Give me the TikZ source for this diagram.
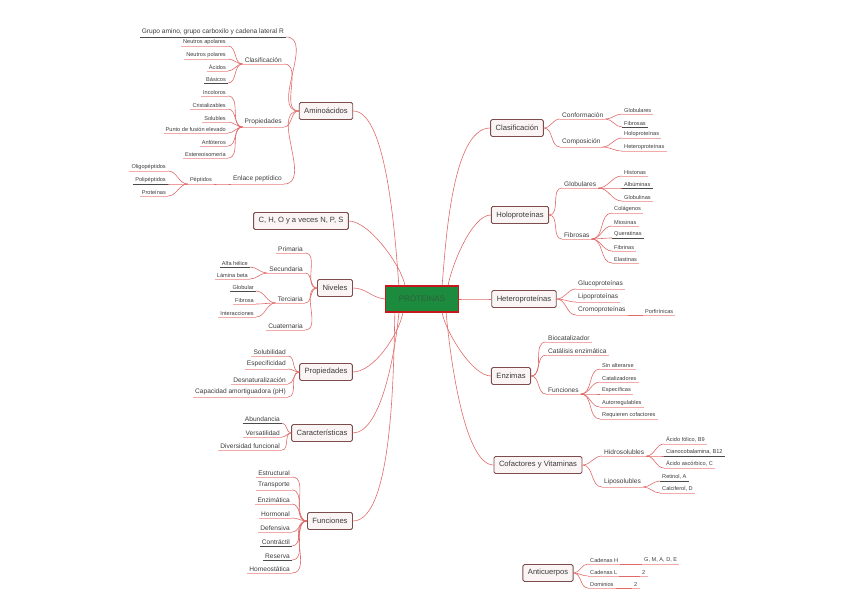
\documentclass[tikz,border=0pt]{standalone}
\usepackage{fontspec}
\setmainfont{Liberation Sans}
\usetikzlibrary{positioning}
\definecolor{Wire}{HTML}{E06A6A}
\definecolor{Under}{HTML}{F2AAAA}
\definecolor{Dark}{HTML}{4A4A4A}
\definecolor{Edge}{HTML}{7D4C4C}
\definecolor{Card}{HTML}{FBF4F4}
\definecolor{Ink}{HTML}{3C3C3C}
\definecolor{Core}{HTML}{1C8B3E}
\definecolor{CoreEdge}{HTML}{C8161D}
\definecolor{CoreInk}{HTML}{2F5F3B}

\tikzset{
  topic/.style={draw=Edge, fill=Card, rounded corners=1.5pt, line width=0.9pt,
    font=\fontsize{7.6}{9}\selectfont, text=Ink, minimum height=17pt, inner xsep=5pt},
  sub/.style={font=\fontsize{6.6}{7}\selectfont, text=Ink, inner xsep=2pt, inner ysep=1.6pt},
  leaf/.style={font=\fontsize{5.6}{6}\selectfont, text=Ink, inner xsep=2pt, inner ysep=1.4pt},
  link/.style={draw=Wire, line width=0.6pt},
  rule/.style={line width=0.7pt},
}
\newcommand\ulnode[2]{\draw[rule,#2] (#1.south west) -- (#1.south east);}

\begin{document}
\begin{tikzpicture}[x=1pt,y=-1pt]
  \useasboundingbox (0,0) rectangle (848,599);
  % centre
  \node[draw=CoreEdge, fill=Core, line width=1.2pt, minimum width=73pt, minimum height=26pt,
    font=\fontsize{8}{9}\selectfont, text=CoreInk] (core) at (422,299) {PROTEINAS};

  % ---- left side
  \node[topic] (amino) at (326,111) {Aminoácidos};
  \node[topic] (cho) at (301,221) {C, H, O y a veces N, P, S};
  \node[topic] (niv) at (335,288) {Niveles};
  \node[topic] (lprop) at (326,372) {Propiedades};
  \node[topic] (carac) at (322,433) {Características};
  \node[topic] (func) at (330,521) {Funciones};
  \draw[link] ([xshift=14pt]core.north west) to[out=95,in=0,looseness=0.5] (amino.east);
  \draw[link] ([xshift=20pt]core.north west) to[out=100,in=0,looseness=0.6] (cho.east);
  \draw[link] (core.west) to[out=175,in=0] (niv.east);
  \draw[link] ([xshift=18pt]core.south west) to[out=260,in=0,looseness=0.7] (lprop.east);
  \draw[link] ([xshift=14pt]core.south west) to[out=265,in=0,looseness=0.6] (carac.east);
  \draw[link] ([xshift=10pt]core.south west) to[out=268,in=0,looseness=0.5] (func.east);

  % aminoacidos
  \node[sub, anchor=south east] (grupo) at (286,37) {Grupo amino, grupo carboxilo y cadena lateral R};
  \node[sub, anchor=south east] (aclas) at (284,64) {Clasificación};
  \node[sub, anchor=south east] (aprop) at (284,127) {Propiedades};
  \node[sub, anchor=south east] (enlace) at (284,184) {Enlace peptídico};
  \ulnode{grupo}{Dark}
  \foreach \s in {aclas,aprop,enlace} {
    \ulnode{\s}{Under}
  }
  \foreach \s in {grupo,aclas,aprop,enlace} {
    \draw[link] (amino.west) to[out=180,in=0] (\s.south east);
  }
  \foreach \n/\y/\t/\c in {1/46/Neutros apolares/Under, 2/59/Neutros polares/Under,
      3/71/Ácidos/Under, 4/83/Básicos/Dark} {
    \node[leaf, anchor=south east] (ac\n) at (228,\y) {\t};
    \ulnode{ac\n}{\c}
    \draw[link] (aclas.south west) to[out=180,in=0] (ac\n.south east);
  }
  \foreach \n/\y/\t in {1/96/Incoloros, 2/109/Cristalizables, 3/122/Solubles,
      4/133/Punto de fusión elevado, 5/146/Anfóteros, 6/158/Estereoisomería} {
    \node[leaf, anchor=south east] (ap\n) at (228,\y) {\t};
    \ulnode{ap\n}{Under}
    \draw[link] (aprop.south west) to[out=180,in=0] (ap\n.south east);
  }
  \node[leaf, anchor=south east] (pept) at (214,184) {Péptidos};
  \ulnode{pept}{Under}
  \draw[link] (enlace.south west) to[out=180,in=0] (pept.south east);
  \foreach \n/\y/\t/\c in {1/171/Oligopéptidos/Under, 2/184/Polipéptidos/Dark, 3/196/Proteínas/Under} {
    \node[leaf, anchor=south east] (pp\n) at (168,\y) {\t};
    \ulnode{pp\n}{\c}
    \draw[link] (pept.south west) to[out=180,in=0] (pp\n.south east);
  }

  % niveles
  \foreach \n/\y/\t in {prim/253/Primaria, sec/273/Secundaria, ter/303/Terciaria, cua/330/Cuaternaria} {
    \node[sub, anchor=south east] (\n) at (305,\y) {\t};
    \ulnode{\n}{Under}
    \draw[link] (niv.west) to[out=180,in=0] (\n.south east);
  }
  \foreach \n/\y/\t/\c in {1/267/Alfa hélice/Dark, 2/279/Lámina beta/Under} {
    \node[leaf, anchor=south east] (se\n) at (250,\y) {\t};
    \ulnode{se\n}{\c}
    \draw[link] (sec.south west) to[out=180,in=0] (se\n.south east);
  }
  \foreach \n/\y/\t/\c in {1/291/Globular/Dark, 2/304/Fibrosa/Under, 3/317/Interacciones/Under} {
    \node[leaf, anchor=south east] (te\n) at (256,\y) {\t};
    \ulnode{te\n}{\c}
    \draw[link] (ter.south west) to[out=180,in=0] (te\n.south east);
  }

  % propiedades
  \foreach \n/\y/\t in {1/356/Solubilidad, 2/369/Especificidad, 3/384/Desnaturalización,
      4/397/Capacidad amortiguadora (pH)} {
    \node[sub, anchor=south east] (pr\n) at (288,\y) {\t};
    \ulnode{pr\n}{Under}
    \draw[link] (lprop.west) to[out=180,in=0] (pr\n.south east);
  }
  % caracteristicas
  \foreach \n/\y/\t/\c in {1/423/Abundancia/Dark, 2/437/Versatilidad/Under, 3/450/Diversidad funcional/Under} {
    \node[sub, anchor=south east] (ca\n) at (282,\y) {\t};
    \ulnode{ca\n}{\c}
    \draw[link] (carac.west) to[out=180,in=0] (ca\n.south east);
  }
  % funciones
  \foreach \n/\y/\t/\c in {1/477/Estructural/Under, 2/490/Transporte/Under, 3/504/Enzimática/Under,
      4/518/Hormonal/Under, 5/532/Defensiva/Under, 6/546/Contráctil/Dark,
      7/560/Reserva/Dark, 8/573/Homeostática/Under} {
    \node[sub, anchor=south east] (fu\n) at (292,\y) {\t};
    \ulnode{fu\n}{\c}
    \draw[link] (func.west) to[out=180,in=0] (fu\n.south east);
  }

  % ---- right side
  \node[topic] (clas) at (517,128) {Clasificación};
  \node[topic] (holo) at (520,215) {Holoproteínas};
  \node[topic] (hete) at (524,299) {Heteroproteínas};
  \node[topic] (enz) at (511,376) {Enzimas};
  \node[topic] (cofa) at (538,465) {Cofactores y Vitaminas};
  \node[topic] (anti) at (548,573) {Anticuerpos};
  \draw[link] ([xshift=-17pt]core.north east) to[out=85,in=180,looseness=0.6] (clas.west);
  \draw[link] ([xshift=-11pt]core.north east) to[out=80,in=180,looseness=0.6] (holo.west);
  \draw[link] (core.east) to[out=0,in=180] (hete.west);
  \draw[link] ([xshift=-17pt]core.south east) to[out=280,in=180,looseness=0.6] (enz.west);
  \draw[link] ([xshift=-13pt]core.south east) to[out=275,in=180,looseness=0.5] (cofa.west);

  % clasificacion
  \foreach \n/\y/\t in {conf/119/Conformación, comp/147/Composición} {
    \node[sub, anchor=south west] (\n) at (560,\y) {\t};
    \ulnode{\n}{Under}
    \draw[link] (clas.east) to[out=0,in=180] (\n.south west);
  }
  \foreach \n/\y/\t/\c in {1/114/Globulares/Under, 2/127/Fibrosas/Dark} {
    \node[leaf, anchor=south west] (cf\n) at (622,\y) {\t};
    \ulnode{cf\n}{\c}
    \draw[link] (conf.south east) to[out=0,in=180] (cf\n.south west);
  }
  \foreach \n/\y/\t in {1/138/Holoproteínas, 2/151/Heteroproteínas} {
    \node[leaf, anchor=south west] (cm\n) at (622,\y) {\t};
    \ulnode{cm\n}{Under}
    \draw[link] (comp.south east) to[out=0,in=180] (cm\n.south west);
  }

  % holoproteinas
  \foreach \n/\y/\t in {glob/188/Globulares, fibr/239/Fibrosas} {
    \node[sub, anchor=south west] (\n) at (562,\y) {\t};
    \ulnode{\n}{Under}
    \draw[link] (holo.east) to[out=0,in=180] (\n.south west);
  }
  \foreach \n/\y/\t/\c in {1/176/Histonas/Under, 2/188/Albúminas/Dark, 3/201/Globulinas/Under} {
    \node[leaf, anchor=south west] (gl\n) at (622,\y) {\t};
    \ulnode{gl\n}{\c}
    \draw[link] (glob.south east) to[out=0,in=180] (gl\n.south west);
  }
  \foreach \n/\y/\t/\c in {1/213/Colágenos/Under, 2/226/Miosinas/Under, 3/238/Queratinas/Dark,
      4/251/Fibrinas/Under, 5/263/Elastinas/Under} {
    \node[leaf, anchor=south west] (fb\n) at (612,\y) {\t};
    \ulnode{fb\n}{\c}
    \draw[link] (fibr.south east) to[out=0,in=180] (fb\n.south west);
  }

  % heteroproteinas
  \foreach \n/\y/\t in {gluc/289/Glucoproteínas, lipo/302/Lipoproteínas, crom/315/Cromoproteínas} {
    \node[sub, anchor=south west] (\n) at (576,\y) {\t};
    \ulnode{\n}{Under}
    \draw[link] (hete.east) to[out=0,in=180] (\n.south west);
  }
  \node[leaf, anchor=south west] (porf) at (643,315) {Porfirínicas};
  \ulnode{porf}{Under}
  \draw[link] (crom.south east) -- (porf.south west);

  % enzimas
  \foreach \n/\y/\t in {bioc/342/Biocatalizador, cata/355/Catálisis enzimática, efun/394/Funciones} {
    \node[sub, anchor=south west] (\n) at (546,\y) {\t};
    \ulnode{\n}{Under}
    \draw[link] (enz.east) to[out=0,in=180] (\n.south west);
  }
  \foreach \n/\y/\t in {1/369/Sin alterarse, 2/382/Catalizadores, 3/394/Específicas,
      4/407/Autorregulables, 5/419/Requieren cofactores} {
    \node[leaf, anchor=south west] (ef\n) at (600,\y) {\t};
    \ulnode{ef\n}{Under}
    \draw[link] (efun.south east) to[out=0,in=180] (ef\n.south west);
  }

  % cofactores y vitaminas
  \foreach \n/\y/\t in {hidr/456/Hidrosolubles, lipos/487/Liposolubles} {
    \node[sub, anchor=south west] (\n) at (602,\y) {\t};
    \ulnode{\n}{Under}
    \draw[link] (cofa.east) to[out=0,in=180] (\n.south west);
  }
  \foreach \n/\y/\t/\c in {1/444/{Ácido fólico, B9}/Under, 2/456/{Cianocobalamina, B12}/Dark,
      3/468/{Ácido ascórbico, C}/Under} {
    \node[leaf, anchor=south west] (hi\n) at (664,\y) {\t};
    \ulnode{hi\n}{\c}
    \draw[link] (hidr.south east) to[out=0,in=180] (hi\n.south west);
  }
  \foreach \n/\y/\t/\c in {1/481/{Retinol, A}/Dark, 2/493/{Calciferol, D}/Under} {
    \node[leaf, anchor=south west] (li\n) at (660,\y) {\t};
    \ulnode{li\n}{\c}
    \draw[link] (lipos.south east) to[out=0,in=180] (li\n.south west);
  }

  % anticuerpos
  \foreach \n/\y/\t/\v/\x in {1/564/Cadenas H/{G, M, A, D, E}/642, 2/576/Cadenas L/2/640,
      3/588/Dominios/2/632} {
    \node[leaf, anchor=south west] (an\n) at (588,\y) {\t};
    \ulnode{an\n}{Under}
    \draw[link] (anti.east) to[out=0,in=180] (an\n.south west);
    \node[leaf, anchor=south west] (av\n) at (\x,\y) {\v};
    \ulnode{av\n}{Under}
    \draw[link] (an\n.south east) -- (av\n.south west);
  }
\end{tikzpicture}
\end{document}
